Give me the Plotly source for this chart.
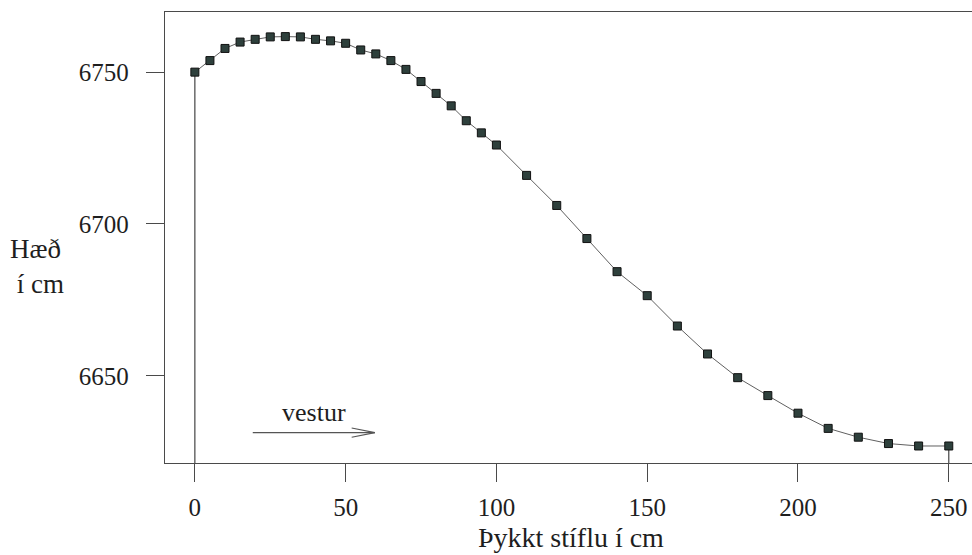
import plotly.graph_objects as go

# Data
thickness_cm = [0, 5, 10, 15, 20, 25, 30, 35, 40, 45, 50, 55, 60, 65, 70, 75, 80, 85, 90, 95, 100,
                110, 120, 130, 140, 150, 160, 170, 180, 190, 200, 210, 220, 230, 240, 250]
height_cm = [6750.0, 6753.8, 6757.8, 6759.9, 6760.8, 6761.6, 6761.7, 6761.6, 6760.8, 6760.3, 6759.5,
             6757.3, 6756.0, 6753.8, 6750.9, 6746.9, 6743.0, 6738.9, 6734.0, 6730.0, 6726.0,
             6716.0, 6706.1, 6695.2, 6684.3, 6676.4, 6666.4, 6657.2, 6649.4, 6643.5, 6637.7,
             6632.7, 6629.8, 6627.7, 6626.9, 6626.9]
x_ticks = [0, 50, 100, 150, 200, 250]
y_ticks = [6650, 6700, 6750]
x_title = "Þykkt stíflu í cm"
y_title = "Hæð<br>\u00a0í cm"
direction_label = "vestur"

X_RANGE = [-9.9, 257.7]
Y_RANGE = [6621.3, 6769.8]

FONT = "Liberation Serif"
AX = "#4a4a4a"
TXT = "#1e1e1e"

fig = go.Figure()

# vertical edges of the profile down to the axis
for xi, yi in [(thickness_cm[0], height_cm[0]), (thickness_cm[-1], height_cm[-1])]:
    fig.add_trace(go.Scatter(x=[xi, xi], y=[yi, Y_RANGE[0]], mode="lines",
                             line=dict(color="#444444", width=1.2), hoverinfo="skip",
                             showlegend=False, cliponaxis=False))

fig.add_trace(go.Scatter(
    x=thickness_cm, y=height_cm, mode="lines+markers",
    line=dict(color="#606060", width=1),
    marker=dict(symbol="square", size=8, color="#2e403c",
                line=dict(color="#111111", width=1)),
    showlegend=False,
))

# direction arrow "vestur"
fig.add_shape(type="line", x0=19.2, x1=59.7, y0=6631.3, y1=6631.3,
              line=dict(color="#555555", width=1.2))
fig.add_shape(type="path", path="M 52.0,6632.8 L 59.7,6631.3 L 52.0,6629.8",
              line=dict(color="#555555", width=1.1))
fig.add_annotation(x=39.5, y=6638.0, text=direction_label, showarrow=False,
                   font=dict(family=FONT, size=26, color=TXT), xanchor="center", yanchor="middle")

# axis titles
fig.add_annotation(xref="paper", yref="paper", x=(37 - 165) / 807, y=0.435,
                   text=y_title, showarrow=False, align="left",
                   font=dict(family=FONT, size=27, color=TXT), xanchor="center", yanchor="middle")
fig.add_annotation(xref="paper", yref="paper", x=(571 - 165) / 807, y=-(537 - 463) / 451,
                   text=x_title, showarrow=False,
                   font=dict(family=FONT, size=28, color=TXT), xanchor="center", yanchor="middle")

fig.update_xaxes(range=X_RANGE, tickvals=x_ticks, ticks="outside", ticklen=18, tickwidth=1.2,
                 tickcolor=AX, showline=True, linecolor=AX, linewidth=1.3, mirror=True,
                 showgrid=False, zeroline=False, ticklabelstandoff=4,
                 tickfont=dict(family=FONT, size=25, color=TXT))
fig.update_yaxes(range=Y_RANGE, tickvals=y_ticks, ticks="outside", ticklen=18, tickwidth=1.2,
                 tickcolor=AX, showline=True, linecolor=AX, linewidth=1.3, mirror=False,
                 showgrid=False, zeroline=False, ticklabelstandoff=12,
                 tickfont=dict(family=FONT, size=25, color=TXT))

fig.update_layout(width=972, height=555, margin=dict(l=165, r=0, t=12, b=92),
                  plot_bgcolor="white", paper_bgcolor="white",
                  font=dict(family=FONT, color=TXT))

fig.write_html("out.html", config={"displayModeBar": False},
               post_script="document.body.style.margin='0';document.body.style.overflow='hidden';")
